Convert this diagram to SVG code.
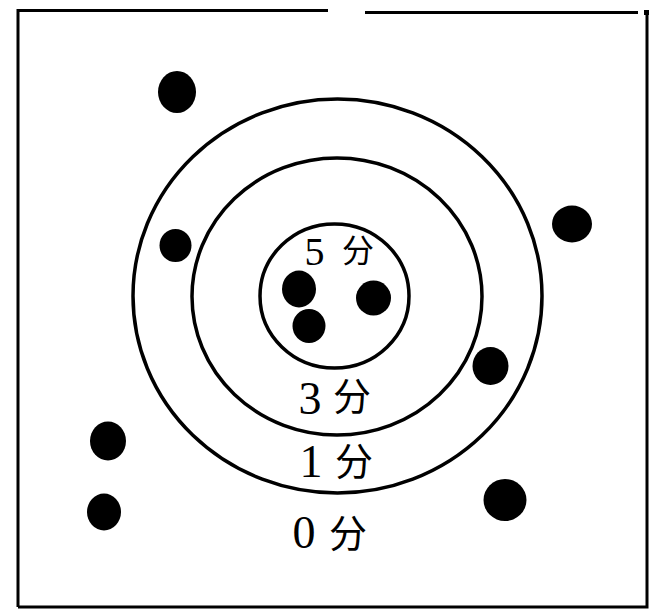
<svg xmlns="http://www.w3.org/2000/svg" width="661" height="610" viewBox="0 0 661 610">
  <style>
    .frame { fill: none; stroke: #000; stroke-width: 3; }
    .ring { fill: none; stroke: #000; stroke-width: 3.5; }
    .hole { fill: #000; }
    .num { font-family: "Liberation Serif", "Times New Roman", serif; fill: #000; text-anchor: middle; }
    .cjk { font-family: "Noto Sans CJK SC", "Noto Sans CJK JP", sans-serif; fill: #000; text-anchor: middle; }
  </style>
  <rect width="661" height="610" fill="#fff"/>
  <g id="frame">
    <path class="frame" d="M18 607 L18 10.5 L328 10.5 M365 12.5 L638 12.5 M647 13 L647 607 L18 607"/>
    <rect x="644" y="10" width="5" height="5" fill="#000"/>
  </g>
  <g id="rings">
    <ellipse id="ring-outer" class="ring" cx="337.5" cy="296" rx="204.5" ry="197"/>
    <ellipse id="ring-middle" class="ring" cx="337" cy="296.5" rx="145" ry="138.5"/>
    <ellipse id="ring-inner" class="ring" cx="334.5" cy="296" rx="74.5" ry="72"/>
  </g>
  <g id="labels">
    <g id="label-5"><text class="num" x="314.5" y="265" font-size="40">5</text><text class="cjk" x="358" y="262" font-size="32">分</text></g>
    <g id="label-3"><text class="num" x="310" y="414" font-size="46">3</text><text class="cjk" x="352" y="410" font-size="38">分</text></g>
    <g id="label-1"><text class="num" x="311" y="477" font-size="46">1</text><text class="cjk" x="354" y="475" font-size="38">分</text></g>
    <g id="label-0"><text class="num" x="304" y="548" font-size="46">0</text><text class="cjk" x="348" y="547" font-size="38">分</text></g>
  </g>
  <g id="holes">
    <ellipse id="hole-1" class="hole" cx="177" cy="92" rx="19" ry="21"/>
    <ellipse id="hole-2" class="hole" cx="175.5" cy="245.5" rx="16" ry="16.5"/>
    <ellipse id="hole-3" class="hole" cx="572" cy="224" rx="20" ry="18.5"/>
    <ellipse id="hole-4" class="hole" cx="299" cy="289" rx="17" ry="18.5"/>
    <ellipse id="hole-5" class="hole" cx="373.5" cy="298" rx="17.5" ry="17.5"/>
    <ellipse id="hole-6" class="hole" cx="309" cy="326" rx="16.5" ry="17"/>
    <ellipse id="hole-7" class="hole" cx="490.5" cy="366" rx="18" ry="19"/>
    <ellipse id="hole-8" class="hole" cx="108" cy="441" rx="18" ry="19.5"/>
    <ellipse id="hole-9" class="hole" cx="104" cy="512" rx="17" ry="18.5"/>
    <ellipse id="hole-10" class="hole" cx="505" cy="500" rx="21.5" ry="21"/>
  </g>
</svg>
